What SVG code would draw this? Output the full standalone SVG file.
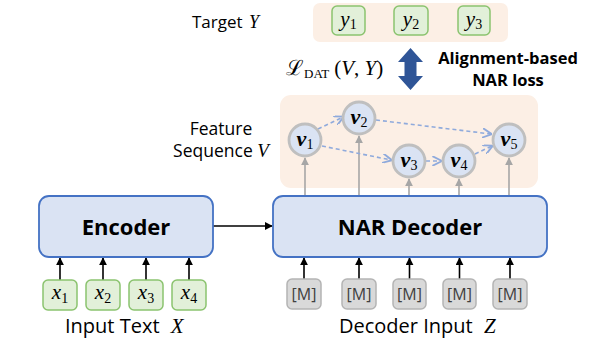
<svg xmlns="http://www.w3.org/2000/svg" width="596" height="347" viewBox="0 0 596 347">
<defs>
<style>
.sans{font-family:"Open Sans","Noto Sans","DejaVu Sans",sans-serif;fill:#000}
.math{font-family:"Liberation Serif","DejaVu Serif",serif;fill:#000}
.panel{fill:#FCEFE5;stroke:none}
.block{fill:#DAE3F3;stroke:#4472C4;stroke-width:1.8}
.gbox{fill:#E2F0D9;stroke:#8BC36F;stroke-width:1.5}
.mbox{fill:#D9D9D9;stroke:#B4B4B4;stroke-width:1.5}
.node{fill:#DAE3F3;stroke:#BFBFBF;stroke-width:2.8}
.blk{stroke:#000;stroke-width:1.6;fill:none}
.gray{stroke:#A6A6A6;stroke-width:1.6;fill:none}
.dash{stroke:#8FAADC;stroke-width:1.6;fill:none;stroke-dasharray:4 3}
.mt{font-family:"Open Sans","Noto Sans","DejaVu Sans",sans-serif;fill:#404040;font-size:16px}
</style>
<marker id="ab" viewBox="0 0 10 10" refX="9" refY="5" markerWidth="5" markerHeight="5" orient="auto"><path d="M0,0 L10,5 L0,10 z" fill="#000"/></marker>
<marker id="ag" viewBox="0 0 10 10" refX="9" refY="5" markerWidth="5" markerHeight="5" orient="auto"><path d="M0,0 L10,5 L0,10 z" fill="#A6A6A6"/></marker>
<marker id="ad" viewBox="0 0 10 10" refX="9" refY="5" markerWidth="6" markerHeight="6" orient="auto"><path d="M0,0 L10,5 L0,10" fill="none" stroke="#8FAADC" stroke-width="2"/></marker>
</defs>

<rect x="0" y="0" width="596" height="347" fill="#fff"/>

<!-- Target panel -->
<g id="target">
<text class="sans" x="192" y="28" font-size="17">Target <tspan class="math" font-style="italic" font-size="18" dx="2">Y</tspan></text>
<rect class="panel" x="313" y="3" width="195" height="39" rx="7"/>
<rect class="gbox" x="332" y="6" width="33" height="29" rx="5"/>
<text class="math" x="348.5" y="26" font-size="21" font-style="italic" text-anchor="middle">y<tspan font-style="normal" font-size="14" dy="3">1</tspan></text>
<rect class="gbox" x="394" y="6" width="34" height="29" rx="5"/>
<text class="math" x="411" y="26" font-size="21" font-style="italic" text-anchor="middle">y<tspan font-style="normal" font-size="14" dy="3">2</tspan></text>
<rect class="gbox" x="458" y="6" width="32" height="29" rx="5"/>
<text class="math" x="474" y="26" font-size="21" font-style="italic" text-anchor="middle">y<tspan font-style="normal" font-size="14" dy="3">3</tspan></text>
</g>

<!-- Loss -->
<g id="loss">
<text class="math" x="286" y="75" font-size="21">ℒ<tspan font-size="13" dy="3">DAT</tspan><tspan dy="-3" dx="5">(</tspan><tspan font-style="italic">V</tspan>, <tspan font-style="italic">Y</tspan>)</text>
<path d="M410.5,48 L423,62 L416.5,62 L416.5,76 L423,76 L410.5,90 L398,76 L404.5,76 L404.5,62 L398,62 Z" fill="#2F5597"/>
<text class="sans" x="508" y="64" font-size="16.5" font-weight="bold" text-anchor="middle">Alignment-based</text>
<text class="sans" x="508" y="86" font-size="16.5" font-weight="bold" text-anchor="middle">NAR loss</text>
</g>

<!-- Feature sequence -->
<g id="feature">
<text class="sans" x="221" y="135" font-size="17.5" text-anchor="middle">Feature</text>
<text class="sans" x="221" y="157" font-size="17.5" text-anchor="middle">Sequence <tspan class="math" font-style="italic" font-size="19">V</tspan></text>
<rect class="panel" x="280" y="95" width="258" height="93" rx="11"/>
</g>

<!-- Connectors -->
<g id="connectors">
<line class="gray" x1="305" y1="196" x2="305" y2="158" marker-end="url(#ag)"/>
<line class="gray" x1="359" y1="196" x2="359" y2="136" marker-end="url(#ag)"/>
<line class="gray" x1="409" y1="196" x2="409" y2="179" marker-end="url(#ag)"/>
<line class="gray" x1="459" y1="196" x2="459" y2="179" marker-end="url(#ag)"/>
<line class="gray" x1="509" y1="196" x2="509" y2="158" marker-end="url(#ag)"/>
<line class="dash" x1="318" y1="129" x2="343" y2="117" marker-end="url(#ad)"/>
<line class="dash" x1="322" y1="146" x2="391" y2="160" marker-end="url(#ad)"/>
<line class="dash" x1="376" y1="120" x2="491" y2="134" marker-end="url(#ad)"/>
<line class="dash" x1="426" y1="161" x2="441" y2="161" marker-end="url(#ad)"/>
<line class="dash" x1="475" y1="154" x2="492" y2="146" marker-end="url(#ad)"/>
<line class="blk" x1="213" y1="226" x2="272" y2="226" marker-end="url(#ab)"/>
<line class="blk" x1="60" y1="280" x2="60" y2="258" marker-end="url(#ab)"/>
<line class="blk" x1="103" y1="280" x2="103" y2="258" marker-end="url(#ab)"/>
<line class="blk" x1="146" y1="280" x2="146" y2="258" marker-end="url(#ab)"/>
<line class="blk" x1="189" y1="280" x2="189" y2="258" marker-end="url(#ab)"/>
<line class="blk" x1="304" y1="279" x2="304" y2="258" marker-end="url(#ab)"/>
<line class="blk" x1="359" y1="279" x2="359" y2="258" marker-end="url(#ab)"/>
<line class="blk" x1="409.5" y1="279" x2="409.5" y2="258" marker-end="url(#ab)"/>
<line class="blk" x1="459.5" y1="279" x2="459.5" y2="258" marker-end="url(#ab)"/>
<line class="blk" x1="510" y1="279" x2="510" y2="258" marker-end="url(#ab)"/>
</g>

<!-- Feature nodes -->
<g id="v1"><circle class="node" cx="305" cy="140" r="16"/><text class="math" x="305" y="146" font-size="22" font-weight="bold" font-style="italic" text-anchor="middle">v<tspan font-weight="normal" font-style="normal" font-size="14" dy="3">1</tspan></text></g>
<g id="v2"><circle class="node" cx="359" cy="118" r="16"/><text class="math" x="359" y="124" font-size="22" font-weight="bold" font-style="italic" text-anchor="middle">v<tspan font-weight="normal" font-style="normal" font-size="14" dy="3">2</tspan></text></g>
<g id="v3"><circle class="node" cx="409" cy="161" r="16"/><text class="math" x="409" y="167" font-size="22" font-weight="bold" font-style="italic" text-anchor="middle">v<tspan font-weight="normal" font-style="normal" font-size="14" dy="3">3</tspan></text></g>
<g id="v4"><circle class="node" cx="459" cy="161" r="16"/><text class="math" x="459" y="167" font-size="22" font-weight="bold" font-style="italic" text-anchor="middle">v<tspan font-weight="normal" font-style="normal" font-size="14" dy="3">4</tspan></text></g>
<g id="v5"><circle class="node" cx="509" cy="140" r="16"/><text class="math" x="509" y="146" font-size="22" font-weight="bold" font-style="italic" text-anchor="middle">v<tspan font-weight="normal" font-style="normal" font-size="14" dy="3">5</tspan></text></g>

<!-- Encoder -->
<g id="encoder">
<rect class="block" x="39" y="196" width="174" height="61" rx="10"/>
<text class="sans" x="126" y="235" font-size="22" font-weight="bold" text-anchor="middle">Encoder</text>
</g>

<!-- Decoder -->
<g id="decoder">
<rect class="block" x="273" y="196" width="274" height="61" rx="10"/>
<text class="sans" x="410" y="235" font-size="22" font-weight="bold" text-anchor="middle">NAR Decoder</text>
</g>

<!-- Inputs -->
<g id="input-text">
<rect class="gbox" x="43" y="280" width="34" height="30" rx="5"/>
<text class="math" x="60" y="299" font-size="21" font-style="italic" text-anchor="middle">x<tspan font-style="normal" font-size="14" dy="4">1</tspan></text>
<rect class="gbox" x="86" y="280" width="34" height="30" rx="5"/>
<text class="math" x="103" y="299" font-size="21" font-style="italic" text-anchor="middle">x<tspan font-style="normal" font-size="14" dy="4">2</tspan></text>
<rect class="gbox" x="129" y="280" width="34" height="30" rx="5"/>
<text class="math" x="146" y="299" font-size="21" font-style="italic" text-anchor="middle">x<tspan font-style="normal" font-size="14" dy="4">3</tspan></text>
<rect class="gbox" x="172" y="280" width="34" height="30" rx="5"/>
<text class="math" x="189" y="299" font-size="21" font-style="italic" text-anchor="middle">x<tspan font-style="normal" font-size="14" dy="4">4</tspan></text>
<text class="sans" x="65" y="333" font-size="20">Input Text <tspan class="math" font-style="italic" font-size="21" dx="6">X</tspan></text>
</g>

<g id="decoder-input">
<rect class="mbox" x="287" y="279" width="34" height="30" rx="5"/>
<text class="mt" x="304" y="300" text-anchor="middle">[M]</text>
<rect class="mbox" x="342" y="279" width="34" height="30" rx="5"/>
<text class="mt" x="359" y="300" text-anchor="middle">[M]</text>
<rect class="mbox" x="393" y="279" width="33" height="30" rx="5"/>
<text class="mt" x="409.5" y="300" text-anchor="middle">[M]</text>
<rect class="mbox" x="443" y="279" width="33" height="30" rx="5"/>
<text class="mt" x="459.5" y="300" text-anchor="middle">[M]</text>
<rect class="mbox" x="493" y="279" width="34" height="30" rx="5"/>
<text class="mt" x="510" y="300" text-anchor="middle">[M]</text>
<text class="sans" x="339" y="333" font-size="20">Decoder Input <tspan class="math" font-style="italic" font-size="21" dx="6">Z</tspan></text>
</g>
</svg>
